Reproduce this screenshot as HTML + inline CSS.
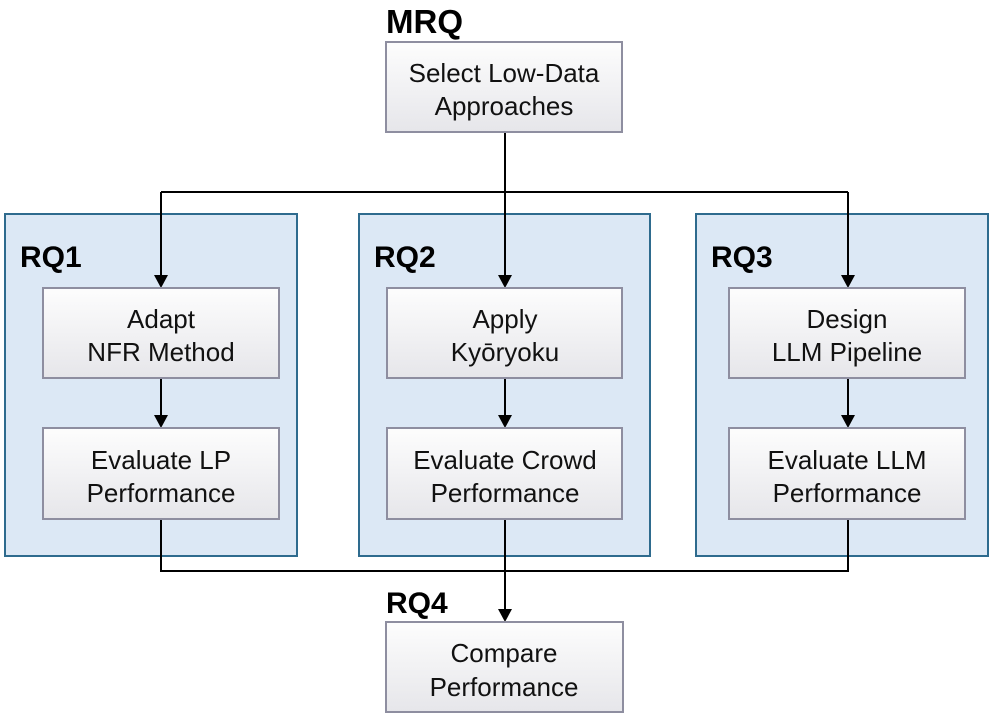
<!DOCTYPE html>
<html><head><meta charset="utf-8"><style>
html,body{margin:0;padding:0;background:#fff;}
svg text{font-family:"Liberation Sans",sans-serif;}
</style></head><body>
<svg width="997" height="722" viewBox="0 0 997 722" xmlns="http://www.w3.org/2000/svg">
<defs>
<linearGradient id="g" x1="0" y1="0" x2="0" y2="1">
<stop offset="0" stop-color="#fdfdfd"/><stop offset="1" stop-color="#e6e6ea"/>
</linearGradient>
</defs>
<g fill="#dce8f5" stroke="#2e6b8e" stroke-width="2">
<rect x="5" y="214" width="292" height="342"/>
<rect x="359" y="214" width="291" height="342"/>
<rect x="696" y="214" width="292" height="342"/>
</g>
<g font-weight="bold" font-size="30" fill="#000">
<text x="386" y="33" font-size="33">MRQ</text>
<text x="20" y="267">RQ1</text>
<text x="374" y="267">RQ2</text>
<text x="711" y="267">RQ3</text>
<text x="386" y="613">RQ4</text>
</g>
<g fill="none" stroke="#000" stroke-width="2">
<path d="M505 132 V192"/>
<path d="M161 192 H848"/>
<path d="M161 192 V275"/><path d="M505 192 V275"/><path d="M848 192 V275"/>
<path d="M161 378 V415"/><path d="M505 378 V415"/><path d="M848 378 V415"/>
<path d="M161 519 V571 H848 V519"/>
<path d="M505 519 V609"/>
</g>
<g fill="#000">
<path d="M154 275 L168 275 L161 288 Z"/><path d="M498 275 L512 275 L505 288 Z"/><path d="M841 275 L855 275 L848 288 Z"/>
<path d="M154 415 L168 415 L161 428 Z"/><path d="M498 415 L512 415 L505 428 Z"/><path d="M841 415 L855 415 L848 428 Z"/>
<path d="M498 609 L512 609 L505 622 Z"/>
</g>
<g fill="url(#g)" stroke="#8e8ea0" stroke-width="2">
<rect x="386" y="42" width="236" height="90"/>
<rect x="43" y="288" width="236" height="90"/>
<rect x="43" y="428" width="236" height="91"/>
<rect x="387" y="288" width="235" height="90"/>
<rect x="387" y="428" width="235" height="91"/>
<rect x="729" y="288" width="236" height="90"/>
<rect x="729" y="428" width="236" height="91"/>
<rect x="386" y="622" width="237" height="90"/>
</g>
<g font-size="26" fill="#111" text-anchor="middle">
<text x="504" y="82">Select Low-Data</text><text x="504" y="115">Approaches</text>
<text x="161" y="328">Adapt</text><text x="161" y="361">NFR Method</text>
<text x="161" y="469">Evaluate LP</text><text x="161" y="502">Performance</text>
<text x="505" y="328">Apply</text><text x="505" y="361">Kyōryoku</text>
<text x="505" y="469">Evaluate Crowd</text><text x="505" y="502">Performance</text>
<text x="847" y="328">Design</text><text x="847" y="361">LLM Pipeline</text>
<text x="847" y="469">Evaluate LLM</text><text x="847" y="502">Performance</text>
<text x="504" y="662">Compare</text><text x="504" y="696">Performance</text>
</g>
</svg>
</body></html>
